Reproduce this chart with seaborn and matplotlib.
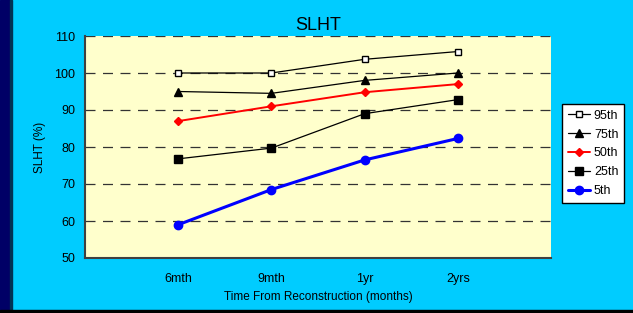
import pandas as pd
import matplotlib.pyplot as plt
import seaborn as sns

# Dades llegides del gràfic
categories = ["6mth", "9mth", "1yr", "2yrs"]
p95 = [100.0, 100.0, 103.7, 105.8]
p75 = [95.0, 94.5, 98.0, 100.0]
p50 = [87.0, 91.0, 94.8, 97.0]
p25 = [76.8, 79.7, 89.0, 92.8]
p5 = [59.0, 68.5, 76.5, 82.3]

series = {"95th": p95, "75th": p75, "50th": p50, "25th": p25, "5th": p5}
rows = []
for name, vals in series.items():
    for i, v in enumerate(vals):
        rows.append({"pos": i + 1, "cat": categories[i], "serie": name, "valor": v})
df = pd.DataFrame(rows)

sns.set_style("white")
plt.rcParams["font.family"] = ["Liberation Sans", "DejaVu Sans"]
plt.rcParams["text.color"] = "black"
plt.rcParams["axes.labelcolor"] = "black"

# estil per sèrie: color, marcador, mida, gruix, farciment
estil = {
    "95th": ("black", "s", 5, 0.9, "white"),
    "75th": ("black", "^", 6, 0.9, "black"),
    "50th": ("red", "D", 4.5, 1.4, "red"),
    "25th": ("black", "s", 5.5, 0.9, "black"),
    "5th": ("blue", "o", 6, 2.2, "blue"),
}

fig = plt.figure(figsize=(6.33, 3.13), dpi=100, facecolor="#00CCFF")
ax = fig.add_axes([85 / 633, 1 - 258 / 313, 466 / 633, 222 / 313])
ax.set_facecolor("#FFFFCC")

for name in series:
    c, m, ms, lw, mfc = estil[name]
    sns.lineplot(data=df[df["serie"] == name], x="pos", y="valor", ax=ax,
                 color=c, marker=m, markersize=ms, linewidth=lw,
                 markerfacecolor=mfc, markeredgecolor=c, markeredgewidth=1,
                 label=name, zorder=3)

ax.set_xlim(0, 5)
ax.set_ylim(50, 110)
ax.set_yticks(range(50, 111, 10))
ax.set_xticks(range(0, 6))
ax.set_xticklabels([""] + categories + [""])
for y in range(60, 111, 10):
    ax.axhline(y, color="#333333", linestyle=(0, (8, 6)), linewidth=0.9, zorder=1)

for s in ["top", "right"]:
    ax.spines[s].set_visible(False)
for s in ["left", "bottom"]:
    ax.spines[s].set_color("#404040")
    ax.spines[s].set_linewidth(1.5)
ax.tick_params(axis="both", direction="out", length=4, width=1, color="#404040",
               labelsize=9, labelcolor="black", pad=3)
ax.tick_params(axis="x", pad=7)

ax.set_xlabel("Time From Reconstruction (months)", fontsize=8.5, labelpad=4)
ax.set_ylabel("SLHT (%)", fontsize=8.5, labelpad=6)
ax.set_title("SLHT", fontsize=13, pad=4, color="black")

leg = ax.legend(loc="upper left", bbox_to_anchor=(562 / 633, 1 - 104 / 313),
                bbox_transform=fig.transFigure, frameon=True, fancybox=False,
                framealpha=1, facecolor="white",
                fontsize=9, handlelength=1.8, handletextpad=0.3, borderpad=0.45,
                labelspacing=0.55, borderaxespad=0)
leg.get_frame().set_edgecolor("black")
leg.get_frame().set_linewidth(1)

# franja blava fosca a l'esquerra i vora inferior
fig.patches.append(plt.Rectangle((0, 0), 10 / 633, 1, transform=fig.transFigure,
                                 color="#000066", zorder=0))
fig.patches.append(plt.Rectangle((10 / 633, 0), 1.5 / 633, 1, transform=fig.transFigure,
                                 color="#003355", zorder=0))
fig.patches.append(plt.Rectangle((0, 0), 1, 3 / 313, transform=fig.transFigure,
                                 color="black", zorder=0))

fig.savefig("out.png", dpi=100, facecolor=fig.get_facecolor())
